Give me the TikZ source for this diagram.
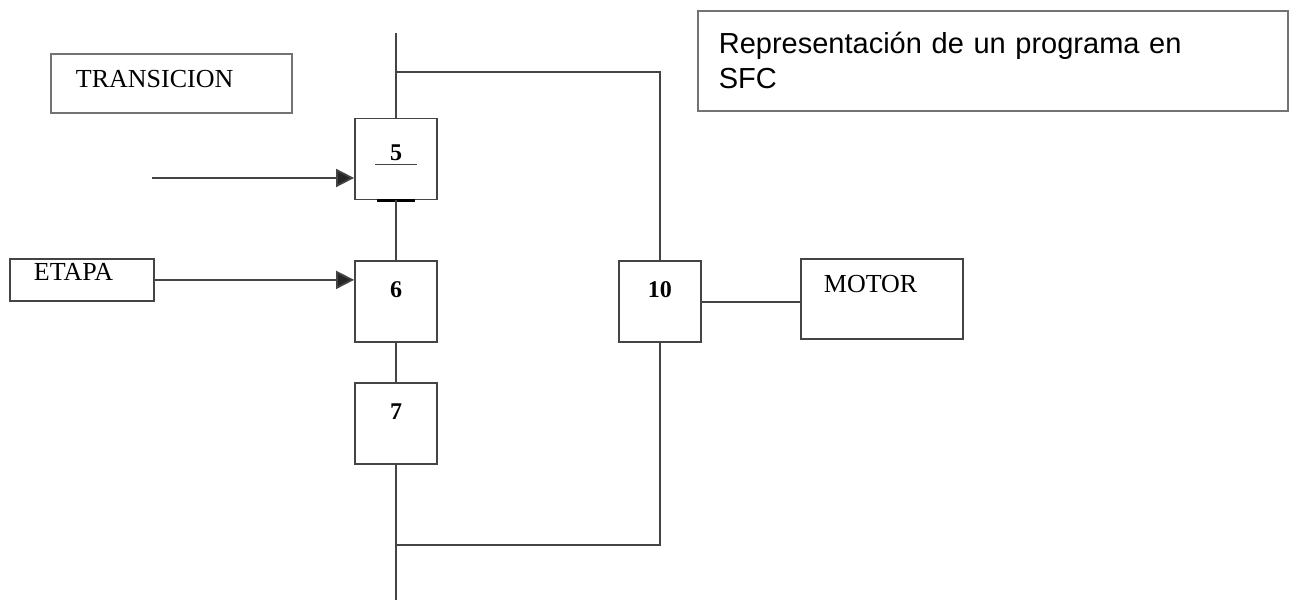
\documentclass[tikz,border=0pt]{standalone}
\usepackage{fontspec}
\setmainfont{Liberation Serif}
\newfontfamily\titlesans{Liberation Sans}
\usetikzlibrary{arrows.meta,calc,positioning}
\definecolor{lineink}{RGB}{68,68,68}
\definecolor{framegray}{RGB}{115,115,115}
\tikzset{
  stepbox/.style={draw=lineink,line width=1.8pt,minimum width=82pt,minimum height=81pt,
    inner sep=0pt,font=\fontsize{24}{28}\selectfont\bfseries,text height=16pt,text depth=25pt},
  tagbox/.style={draw=lineink,line width=1.8pt,inner ysep=0pt,align=left,
    font=\fontsize{26}{30}\selectfont,text height=18pt},
  wire/.style={draw=lineink,line width=1.8pt},
  feed/.style={-{Triangle[length=18pt,width=18pt,fill=black!85]},line width=1.8pt,draw=lineink},
  bar/.style={draw=black,line width=3.5pt}
}

\begin{document}
\begin{tikzpicture}[x=1pt,y=-1pt]
  \useasboundingbox (0,0) rectangle (1310,602);
  % labels
  \node[tagbox,draw=framegray,anchor=north west,inner xsep=25pt,text width=191pt,
    minimum height=59pt,text depth=10pt] (trans) at (50,53) {TRANSICION};
  \node[tagbox,anchor=north west,inner xsep=24pt,text width=96pt,
    minimum height=42pt,text depth=16pt] (etapa) at (9,258) {ETAPA};
  \node[draw=framegray,line width=1.8pt,anchor=north west,inner xsep=21pt,text width=548pt,
    minimum height=100pt,align=left,font=\titlesans\fontsize{29}{35}\selectfont] (title)
    at (697,10) {Representación de un programa en\\SFC};
  % steps
  \node[stepbox,text depth=13pt] (t5) at (396,159) {5};
  \node[stepbox,below=60pt of t5] (s6) {6};
  \node[stepbox,below=39pt of s6] (s7) {7};
  \node[stepbox,right=180pt of s6] (s10) {10};
  \node[tagbox,anchor=north west,inner xsep=23pt,text width=116pt,
    minimum height=80pt,text depth=30pt] (motor) at (800,258) {MOTOR};
  \coordinate (top) at (396,33);
  \coordinate (fork) at (396,72);
  \coordinate (join) at (396,545);
  \coordinate (bottom) at (396,600);
  \coordinate (tin) at (152,178);
  % transition marks
  \draw[wire,line width=1.4pt] ($(t5.north)+(-21,47)$) -- ($(t5.north)+(21,47)$);
  \draw[bar] ($(t5.south)+(-19,0)$) -- ($(t5.south)+(19,0)$);
  % links
  \draw[wire] (top) -- (t5);
  \draw[wire] (fork) -| (s10);
  \draw[wire] (t5) -- (s6);
  \draw[wire] (s6) -- (s7);
  \draw[wire] (s7) -- (bottom);
  \draw[wire] (s10) |- (join);
  \draw[wire] (s10.east) -- (s10.east -| motor.west);
  \draw[feed] (tin) -- (tin -| t5.west);
  \draw[feed] (etapa.east) -- (etapa.east -| s6.west);
\end{tikzpicture}
\end{document}
